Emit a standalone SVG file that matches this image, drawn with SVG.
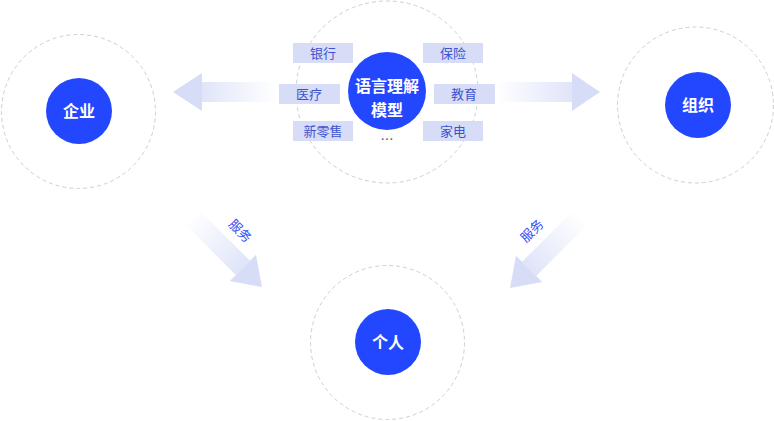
<svg xmlns="http://www.w3.org/2000/svg" width="774" height="421" viewBox="0 0 774 421">
<defs>
<linearGradient id="shaft" x1="0" y1="0" x2="1" y2="0">
<stop offset="0" stop-color="#dfe4f9" stop-opacity="0"/>
<stop offset="1" stop-color="#dfe4f9" stop-opacity="1"/>
</linearGradient>
<style>
.ring{fill:none;stroke:#cfcfcf;stroke-width:1;stroke-dasharray:4 3}
.core{fill:#2247ff}
.ct{font-family:"Noto Sans CJK SC","Noto Sans",sans-serif;font-size:16px;font-weight:bold;fill:#fff;text-anchor:middle}
.tag{fill:#d7ddf7}
.tt{font-family:"Noto Sans CJK SC","Noto Sans",sans-serif;font-size:13px;fill:#3e52d0;text-anchor:middle}
.head{fill:#d7ddf6}
.svc{font-family:"Noto Sans CJK SC","Noto Sans",sans-serif;font-size:13px;fill:#2f4cf5;text-anchor:middle}
</style>
</defs>
<g id="connectors">
<g transform="translate(173,92) rotate(180)">
<rect x="-102" y="-10" width="74" height="20" fill="url(#shaft)"/>
<polygon class="head" points="0,0 -29,-19 -29,19"/>
</g>
<g transform="translate(600,92)">
<rect x="-103" y="-10" width="75" height="20" fill="url(#shaft)"/>
<polygon class="head" points="0,0 -28,-19 -28,19"/>
</g>
<g transform="translate(262,287) rotate(45)">
<rect x="-100" y="-10" width="73" height="20" fill="url(#shaft)"/>
<polygon class="head" points="0,0 -27,-18.5 -27,18.5"/>
</g>
<g transform="translate(510,288) rotate(135)">
<rect x="-100" y="-10" width="73" height="20" fill="url(#shaft)"/>
<polygon class="head" points="0,0 -27,-18.5 -27,18.5"/>
</g>
<text class="svc" transform="translate(240,231) rotate(45)" y="4.5">服务</text>
<text class="svc" transform="translate(532,231) rotate(-45)" y="4.5">服务</text>
</g>
<g id="node-qiye">
<circle class="ring" cx="78.5" cy="111.5" r="77"/>
<circle class="core" cx="79" cy="111" r="33"/>
<text class="ct" x="79" y="117">企业</text>
</g>
<g id="node-model">
<circle class="ring" cx="387" cy="92" r="91"/>
<g>
<rect class="tag" x="293" y="43" width="60" height="20"/>
<text class="tt" x="323" y="58">银行</text>
<rect class="tag" x="423" y="43" width="60" height="20"/>
<text class="tt" x="453" y="58">保险</text>
<rect class="tag" x="279" y="84" width="61" height="20"/>
<text class="tt" x="309" y="99">医疗</text>
<rect class="tag" x="434" y="84" width="61" height="20"/>
<text class="tt" x="464" y="99">教育</text>
<rect class="tag" x="293" y="121" width="60" height="20"/>
<text class="tt" x="323" y="136">新零售</text>
<rect class="tag" x="423" y="121" width="60" height="20"/>
<text class="tt" x="453" y="136">家电</text>
</g>
<circle class="core" cx="387" cy="91" r="39"/>
<text class="ct" x="387" y="92">语言理解</text>
<text class="ct" x="387" y="116">模型</text>
<text class="tt" x="387" y="144" style="fill:#4a5a9a">…</text>
</g>
<g id="node-zuzhi">
<circle class="ring" cx="695.5" cy="105" r="78"/>
<circle class="core" cx="698" cy="105" r="33"/>
<text class="ct" x="698" y="111">组织</text>
</g>
<g id="node-geren">
<circle class="ring" cx="387.5" cy="342.5" r="77"/>
<circle class="core" cx="388" cy="342" r="33"/>
<text class="ct" x="388" y="348">个人</text>
</g>
</svg>
